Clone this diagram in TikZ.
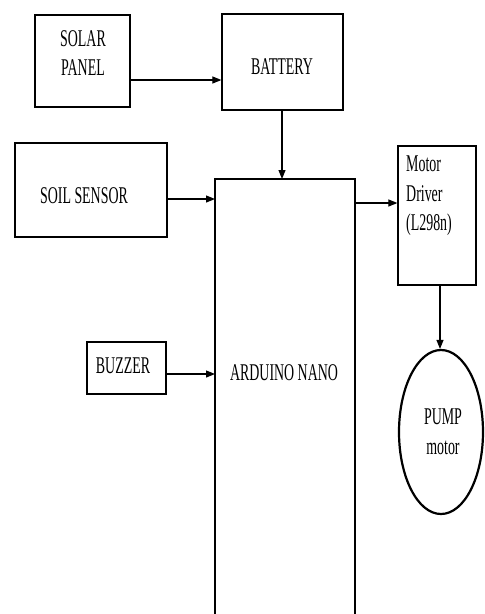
\documentclass[tikz,border=0pt]{standalone}
\usepackage{fontspec}
\setmainfont{Liberation Serif}[FakeStretch=0.58]
\usetikzlibrary{arrows.meta,shapes.geometric}

\tikzset{
  blockbox/.style={draw, line width=1.2pt, inner sep=0pt},
  blocktext/.style={inner sep=0pt, align=center, font=\fontsize{24}{29.5}\selectfont},
  flowarrow/.style={line width=1.1pt, -{Triangle[length=9pt,width=7pt]}}
}

\begin{document}
\begin{tikzpicture}[x=1pt, y=-1pt]

  %% ==== boxes ====
  \node[blockbox, minimum width=95pt,  minimum height=92pt]  (solar)   at (82.5,61)  {};
  \node[blockbox, minimum width=121pt, minimum height=96pt]  (battery) at (282.5,62) {};
  \node[blockbox, minimum width=152pt, minimum height=94pt]  (soil)    at (91,190)   {};
  \node[blockbox, minimum width=79pt,  minimum height=52pt]  (buzzer)  at (126.5,368){};
  \node[blockbox, minimum width=78pt,  minimum height=139pt] (driver)  at (437,215.5){};
  \node[blockbox, ellipse, line width=2.2pt, minimum width=84pt, minimum height=164pt] (pump) at (441,432) {};

  %% arduino box runs off the bottom edge (no bottom side)
  \coordinate (ardBL) at (215,614);
  \coordinate (ardTL) at (215,179);
  \coordinate (ardTR) at (355,179);
  \coordinate (ardBR) at (355,614);
  \draw[line width=1.2pt] (ardBL) -- (ardTL) -- (ardTR) -- (ardBR);

  %% ==== texts ====
  \node[blocktext] (solarText)   at (83,53)   {SOLAR\\PANEL};
  \node[blocktext] (batteryText) at (282,67)  {BATTERY};
  \node[blocktext] (soilText)    at (84,196)  {SOIL SENSOR};
  \node[blocktext] (buzzerText)  at (123,366) {BUZZER};
  \node[blocktext] (ardText)     at (284,373) {ARDUINO NANO};
  \node[blocktext, align=left, anchor=north west] (driverText) at (406,156) {Motor\\Driver\\(L298n)};
  \node[blocktext] (pumpText)    at (443,432) {PUMP\\motor};

  %% ==== connectors ====
  \draw[flowarrow] (solar.east |- 0,80)  -- (battery.west |- 0,80);
  \draw[flowarrow] (battery.south -| 282,0) -- (ardTL -| 282,0);
  \draw[flowarrow] (soil.east |- 0,199)  -- (ardTL |- 0,199);
  \draw[flowarrow] (buzzer.east |- 0,374) -- (ardTL |- 0,374);
  \draw[flowarrow] (ardTR |- 0,203) -- (driver.west |- 0,203);
  \draw[flowarrow] (driver.south -| 440,0) -- (pump.north -| 440,0);

  \pgfresetboundingbox
  \path[use as bounding box] (0,0) rectangle (485,614);
\end{tikzpicture}
\end{document}
